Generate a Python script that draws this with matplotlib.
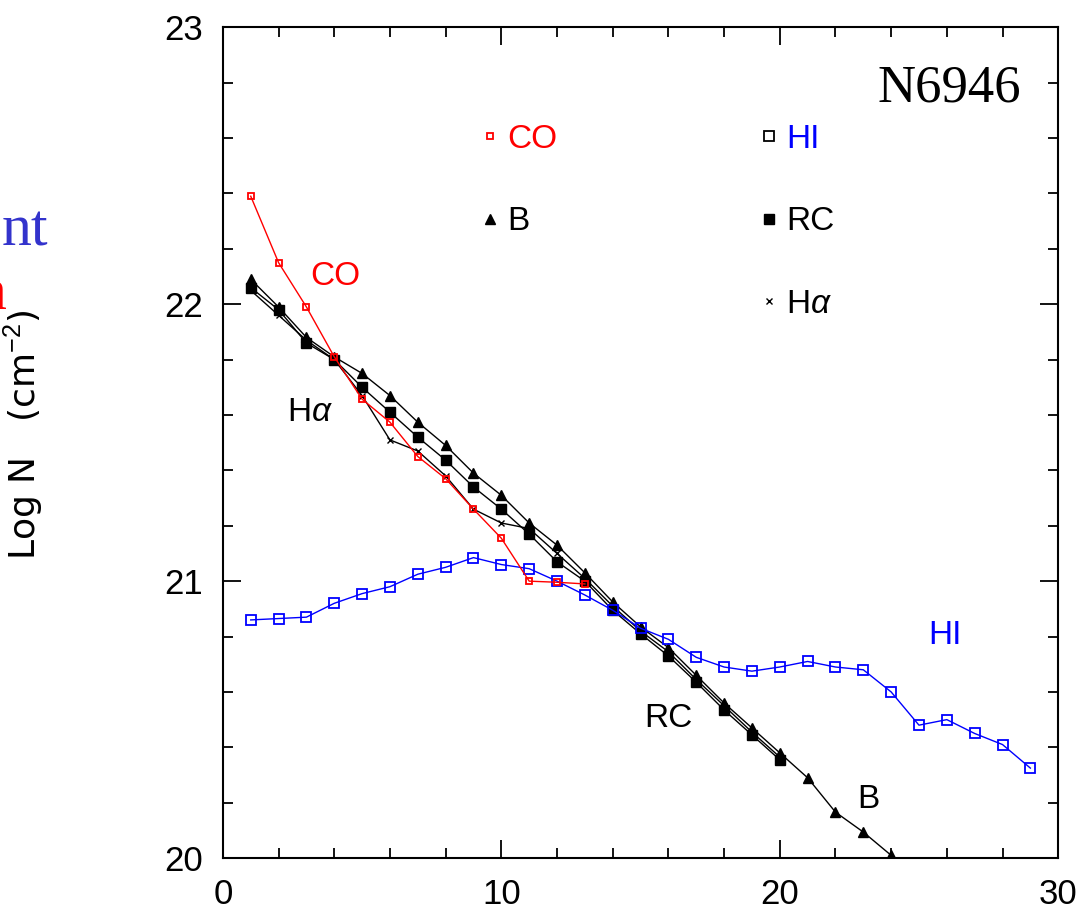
import matplotlib
matplotlib.use('Agg')
import matplotlib.pyplot as plt
from matplotlib.lines import Line2D
from matplotlib.ticker import MultipleLocator

plt.rcParams['font.family'] = ['Liberation Sans', 'DejaVu Sans']
plt.rcParams['mathtext.fontset'] = 'custom'
plt.rcParams['mathtext.rm'] = 'Liberation Sans'
plt.rcParams['mathtext.it'] = 'Liberation Sans:italic'

# radius and log column densities
r_hi = list(range(1, 30))
hi = [20.86, 20.865, 20.87, 20.92, 20.955, 20.98, 21.025, 21.05, 21.085, 21.06,
      21.045, 21.00, 20.95, 20.895, 20.83, 20.79, 20.725, 20.69, 20.675, 20.69,
      20.71, 20.69, 20.68, 20.60, 20.48, 20.50, 20.45, 20.41, 20.325]

r_co = list(range(1, 14))
co = [22.39, 22.15, 21.99, 21.81, 21.657, 21.574, 21.45, 21.37, 21.26, 21.155,
      21.00, 20.996, 20.99]

r_b = list(range(1, 25))
b = [22.09, 21.99, 21.88, 21.81, 21.75, 21.67, 21.574, 21.49, 21.39, 21.31,
     21.21, 21.13, 21.03, 20.925, 20.835, 20.76, 20.66, 20.56, 20.47, 20.38,
     20.29, 20.166, 20.094, 20.01]

r_rc = list(range(1, 21))
rc = [22.06, 21.98, 21.86, 21.80, 21.70, 21.61, 21.52, 21.437, 21.34, 21.26,
      21.17, 21.07, 21.00, 20.895, 20.81, 20.73, 20.635, 20.535, 20.445, 20.355]

r_ha = list(range(1, 21))
ha = [22.05, 21.96, 21.87, 21.80, 21.67, 21.51, 21.47, 21.38, 21.26, 21.21,
      21.19, 21.10, 21.01, 20.91, 20.82, 20.745, 20.645, 20.55, 20.455, 20.365]

fig = plt.figure(figsize=(10.82, 9.09), dpi=100)
ax = fig.add_axes([0.206, 0.056, 0.772, 0.914])

ax.plot(r_b, b, '-', color='black', lw=1.0, marker='^', ms=7.5, mfc='black')
ax.plot(r_rc, rc, '-', color='black', lw=1.0, marker='s', ms=6.5, mfc='black')
ax.plot(r_ha, ha, '-', color='black', lw=1.0, marker='x', ms=4, mew=1.0)
ax.plot(r_hi, hi, '-', color='blue', lw=1.0, marker='s', ms=7, mfc='none', mew=1.3)
ax.plot(r_co, co, '-', color='red', lw=1.0, marker='s', ms=5, mfc='none', mew=1.3)

ax.set_xlim(0, 30)
ax.set_ylim(20, 23)
ax.xaxis.set_major_locator(MultipleLocator(10))
ax.xaxis.set_minor_locator(MultipleLocator(2))
ax.yaxis.set_major_locator(MultipleLocator(1))
ax.yaxis.set_minor_locator(MultipleLocator(0.2))
ax.tick_params(which='both', direction='in', top=True, right=True, width=1.3)
ax.tick_params(which='major', length=13, labelsize=25, pad=14)
ax.tick_params(which='minor', length=7.5)
for s in ax.spines.values():
    s.set_linewidth(1.5)

ax.set_ylabel(r'Log N   (cm$^{-2}$)', fontsize=26, family='DejaVu Sans')
ax.yaxis.set_label_coords(-0.213, 0.51)

# in-plot labels
ax.text(4.02, 22.10, 'CO', color='red', fontsize=24, ha='center', va='center')
ax.text(3.13, 21.61, r'H$\alpha$', color='black', fontsize=24, ha='center', va='center')
ax.text(16.0, 20.505, 'RC', color='black', fontsize=24, ha='center', va='center')
ax.text(23.18, 20.21, 'B', color='black', fontsize=24, ha='center', va='center')
ax.text(25.94, 20.805, 'HI', color='blue', fontsize=24, ha='center', va='center')
ax.text(26.1, 22.78, 'N6946', color='black', fontsize=38, ha='center', va='center',
        family='Liberation Serif')

# legend, two groups
h1 = [Line2D([], [], ls='none', marker='s', ms=5, mfc='none', mec='red', mew=1.3),
      Line2D([], [], ls='none', marker='^', ms=7, color='black')]
leg1 = ax.legend(h1, ['CO', 'B'], loc='upper left', bbox_to_anchor=(0.268, 0.92),
                 frameon=False, fontsize=24, handlelength=0.8, handletextpad=0.12,
                 labelspacing=1.55, labelcolor=['red', 'black'])
ax.add_artist(leg1)
h2 = [Line2D([], [], ls='none', marker='s', ms=7, mfc='none', mec='black', mew=1.3),
      Line2D([], [], ls='none', marker='s', ms=6.5, color='black'),
      Line2D([], [], ls='none', marker='x', ms=4, color='black')]
ax.legend(h2, ['HI', 'RC', r'H$\alpha$'], loc='upper left', bbox_to_anchor=(0.602, 0.92),
          frameon=False, fontsize=24, handlelength=0.8, handletextpad=0.12,
          labelspacing=1.55, labelcolor=['blue', 'black', 'black'])

# cut-off slide text at the left edge
fig.text(48 / 1082, 1 - 232 / 909, 'nt', color='#3333cc', fontsize=43,
         family='Liberation Serif', ha='right', va='center')
fig.text(6 / 1082, 1 - 295 / 909, 'n', color='red', fontsize=43,
         family='Liberation Serif', ha='right', va='center')

fig.savefig('out.png', dpi=100)
